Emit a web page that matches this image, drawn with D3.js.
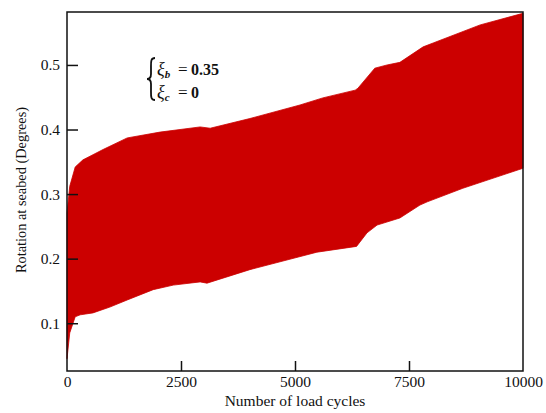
<!DOCTYPE html>
<html>
<head>
<meta charset="utf-8">
<script src="https://cdn.jsdelivr.net/npm/d3@7"></script>
<style>
  html, body { margin: 0; padding: 0; background: #fff; }
  svg { display: block; }
  text { font-family: "Liberation Serif", "Times New Roman", serif; fill: #111; }
</style>
</head>
<body>
<div id="chart"></div>
<script>
// ---- Data ----
const cyclesUpper = [0, 60, 180, 350, 570, 790, 1320, 2040, 2920, 3140, 4010, 5110, 5610, 6320, 6380, 6750, 7020, 7300, 7810, 8030, 9060, 10000];
const rotationUpper = [0.271, 0.312, 0.342, 0.353, 0.361, 0.369, 0.387, 0.396, 0.404, 0.402, 0.417, 0.438, 0.449, 0.461, 0.464, 0.495, 0.500, 0.504, 0.528, 0.534, 0.562, 0.580];
const cyclesLower = [0, 60, 180, 290, 570, 940, 1320, 1890, 2330, 2920, 3070, 4010, 5480, 6350, 6580, 6800, 7300, 7740, 7900, 8680, 10000];
const rotationLower = [0.045, 0.085, 0.110, 0.113, 0.116, 0.125, 0.136, 0.152, 0.159, 0.164, 0.162, 0.183, 0.210, 0.219, 0.240, 0.252, 0.263, 0.283, 0.288, 0.309, 0.340];
const xTicks = [0, 2500, 5000, 7500, 10000];
const yTicks = [0.1, 0.2, 0.3, 0.4, 0.5];
const xLabel = "Number of load cycles";
const yLabel = "Rotation at seabed (Degrees)";
const xDomain = [0, 10000];
const yDomain = [0.026, 0.582];

(function () {
// ---- Layout ----
const W = 546, H = 413;
const mLeft = 67, mRight = 523, mTop = 12, mBottom = 371;
const red = "#cc0000";

const svg = d3.select("#chart").append("svg").attr("width", W).attr("height", H);

const x = d3.scaleLinear().domain(xDomain).range([mLeft, mRight]);
const y = d3.scaleLinear().domain(yDomain).range([mBottom, mTop]);

// band polygon: upper envelope forward, lower envelope backward
const upperPts = cyclesUpper.map((c, i) => [c, rotationUpper[i]]);
const lowerPts = cyclesLower.map((c, i) => [c, rotationLower[i]]).reverse();
const line = d3.line().x(d => x(d[0])).y(d => y(d[1]));
svg.append("path")
  .attr("d", line(upperPts.concat(lowerPts)) + "Z")
  .attr("fill", red)
  .attr("stroke", red)
  .attr("stroke-width", 0.8);

// frame
svg.append("rect")
  .attr("x", mLeft).attr("y", mTop)
  .attr("width", mRight - mLeft).attr("height", mBottom - mTop)
  .attr("fill", "none").attr("stroke", "#111").attr("stroke-width", 1.5);

// axes with inward ticks
const xAxis = d3.axisBottom(x).tickValues(xTicks).tickSize(-10).tickPadding(5).tickFormat(d3.format("d"));
const gx = svg.append("g").attr("transform", `translate(0,${mBottom})`).call(xAxis);
gx.select(".domain").remove();
gx.selectAll(".tick line").attr("stroke", "#111").attr("stroke-width", 1.5)
  .filter(d => d === 0 || d === 10000).remove();
gx.selectAll(".tick text").attr("font-size", 15.5).attr("font-family", "Liberation Serif").attr("fill", "#111");

const yAxis = d3.axisLeft(y).tickValues(yTicks).tickSize(-11).tickPadding(7).tickFormat(d3.format(".1f"));
const gy = svg.append("g").attr("transform", `translate(${mLeft},0)`).call(yAxis);
gy.select(".domain").remove();
gy.selectAll(".tick line").attr("stroke", "#111").attr("stroke-width", 1.5);
gy.selectAll(".tick text").attr("font-size", 15.5).attr("font-family", "Liberation Serif").attr("fill", "#111");

// axis titles
svg.append("text")
  .attr("x", 295).attr("y", 406)
  .attr("text-anchor", "middle").attr("font-size", 15.5)
  .text(xLabel);
svg.append("text")
  .attr("transform", `translate(26,190) rotate(-90)`)
  .attr("text-anchor", "middle").attr("font-size", 15.5)
  .attr("textLength", 166).attr("lengthAdjust", "spacingAndGlyphs")
  .text(yLabel);

// annotation
svg.append("path")
  .attr("d", "M155,58 C150.5,58 151,62 151,68 L151,74 C151,77.5 150,79 147,79 C150,79 151,80.5 151,84 L151,90 C151,96 150.5,100 155,100")
  .attr("fill", "none").attr("stroke", "#111").attr("stroke-width", 1.8);

const ann = [
  { sub: "b", val: "0.35", yb: 75 },
  { sub: "c", val: "0", yb: 98 }
];
ann.forEach(a => {
  const t = svg.append("text").attr("x", 157).attr("y", a.yb).attr("font-size", 18);
  t.append("tspan").attr("font-style", "italic").text("ξ");
  t.append("tspan").attr("font-style", "italic").attr("font-size", 11).attr("font-weight", "bold").attr("dy", 3).text(a.sub);
  t.append("tspan").attr("x", 178).attr("dy", -3).attr("font-size", 17).text("=");
  t.append("tspan").attr("x", 191).attr("font-weight", "bold").attr("font-size", 16).text(a.val);
});
})();
</script>
</body>
</html>
